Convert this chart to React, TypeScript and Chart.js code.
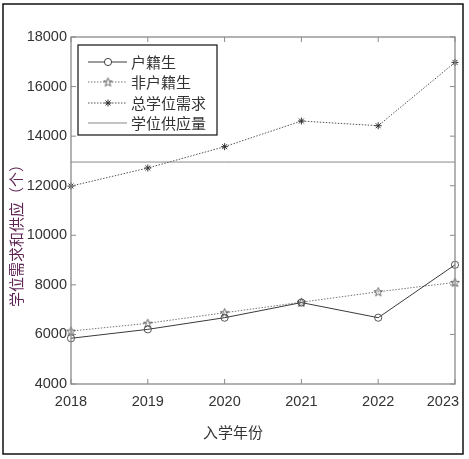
import React, { useEffect, useRef } from "react";
import { Chart, registerables } from "chart.js";

Chart.register(...registerables);

const years = ["2018", "2019", "2020", "2021", "2022", "2023"];
const localStudents = [5845, 6205, 6675, 7285, 6675, 8810];
const nonLocalStudents = [6135, 6450, 6875, 7300, 7720, 8100];
const totalDemand = [11985, 12715, 13575, 14610, 14420, 16975];
const supply = [12955, 12955, 12955, 12955, 12955, 12955];
const seriesNames = ["户籍生", "非户籍生", "总学位需求", "学位供应量"];
const yTicks = [4000, 6000, 8000, 10000, 12000, 14000, 16000, 18000];
const xTitle = "入学年份";
const yTitle = "学位需求和供应（个）";

const FONT = "'Liberation Sans', 'Noto Sans CJK SC', sans-serif";
const CJK = "'Noto Sans CJK SC', 'Liberation Sans', sans-serif";

function makePentagram(color: string): HTMLCanvasElement {
  const c = document.createElement("canvas");
  const s = 11;
  c.width = s;
  c.height = s;
  const ctx = c.getContext("2d")!;
  const cx = s / 2, cy = s / 2 + 0.4, R = 4.6, r = 1.9;
  ctx.beginPath();
  for (let i = 0; i < 10; i++) {
    const rad = i % 2 === 0 ? R : r;
    const a = -Math.PI / 2 + (i * Math.PI) / 5;
    const x = cx + rad * Math.cos(a);
    const y = cy + rad * Math.sin(a);
    if (i === 0) ctx.moveTo(x, y);
    else ctx.lineTo(x, y);
  }
  ctx.closePath();
  ctx.strokeStyle = color;
  ctx.lineWidth = 0.9;
  ctx.stroke();
  return c;
}

export default function App() {
  const ref = useRef<HTMLCanvasElement | null>(null);

  useEffect(() => {
    if (!ref.current) return;
    const star = makePentagram("#555");

    const framePlugin = {
      id: "frame",
      afterDraw(chart: any) {
        const ctx = chart.ctx;
        const { left, right, top, bottom } = chart.chartArea;
        const xs = chart.scales.x;
        const ys = chart.scales.y;
        ctx.save();
        // axes box
        ctx.strokeStyle = "#8a8a8a";
        ctx.lineWidth = 1.3;
        ctx.strokeRect(left, top, right - left, bottom - top);
        // inward ticks
        ctx.lineWidth = 1;
        ctx.beginPath();
        yTicks.forEach((v) => {
          const y = ys.getPixelForValue(v);
          ctx.moveTo(left, y);
          ctx.lineTo(left + 5, y);
          ctx.moveTo(right, y);
          ctx.lineTo(right - 5, y);
        });
        years.forEach((_, i) => {
          const x = xs.getPixelForValue(i);
          ctx.moveTo(x, bottom);
          ctx.lineTo(x, bottom - 5);
          ctx.moveTo(x, top);
          ctx.lineTo(x, top + 5);
        });
        ctx.stroke();

        // titles
        ctx.fillStyle = "#333";
        ctx.font = `15px ${CJK}`;
        ctx.textAlign = "center";
        ctx.textBaseline = "middle";
        ctx.fillText(xTitle, 233, 432);
        ctx.save();
        ctx.translate(16, 232);
        ctx.rotate(-Math.PI / 2);
        ctx.fillStyle = "#5e2454";
        ctx.fillText(yTitle, 0, 0);
        ctx.restore();

        // legend
        const lx = 78, ly = 45, lw = 139, lh = 90;
        ctx.fillStyle = "#fff";
        ctx.fillRect(lx, ly, lw, lh);
        ctx.strokeStyle = "#111";
        ctx.lineWidth = 1.2;
        ctx.strokeRect(lx, ly, lw, lh);
        const rows = [62, 82, 103, 123];
        chart.data.datasets.forEach((ds: any, i: number) => {
          const y = rows[i];
          ctx.save();
          ctx.strokeStyle = ds.borderColor;
          ctx.lineWidth = ds.borderWidth;
          ctx.setLineDash(ds.borderDash || []);
          ctx.beginPath();
          ctx.moveTo(88, y);
          ctx.lineTo(127, y);
          ctx.stroke();
          ctx.setLineDash([]);
          const ps = ds.pointStyle;
          if (ps === "circle") {
            ctx.beginPath();
            ctx.fillStyle = "#fff";
            ctx.arc(108, y, ds.pointRadius, 0, Math.PI * 2);
            ctx.fill();
            ctx.strokeStyle = ds.pointBorderColor;
            ctx.stroke();
          } else if (ps === "star") {
            ctx.strokeStyle = ds.pointBorderColor;
            ctx.lineWidth = 1;
            const r = ds.pointRadius;
            ctx.beginPath();
            for (let k = 0; k < 4; k++) {
              const a = (k * Math.PI) / 4;
              ctx.moveTo(108 - r * Math.cos(a), y - r * Math.sin(a));
              ctx.lineTo(108 + r * Math.cos(a), y + r * Math.sin(a));
            }
            ctx.stroke();
          } else if (ps && typeof ps === "object") {
            ctx.drawImage(ps, 108 - ps.width / 2, y - ps.height / 2);
          }
          ctx.restore();
          ctx.fillStyle = "#333";
          ctx.font = `15px ${CJK}`;
          ctx.textAlign = "left";
          ctx.textBaseline = "middle";
          ctx.fillText(ds.label, 131, y);
        });

        // outer border
        ctx.strokeStyle = "#111";
        ctx.lineWidth = 1.5;
        ctx.strokeRect(3, 4, 460, 450);
        ctx.restore();
      },
    };

    const chart = new Chart(ref.current, {
      type: "line",
      data: {
        labels: years,
        datasets: [
          {
            label: seriesNames[0],
            data: localStudents,
            borderColor: "#3a3a3a",
            borderWidth: 1,
            pointStyle: "circle",
            pointRadius: 3.6,
            pointBorderColor: "#444",
            pointBackgroundColor: "rgba(0,0,0,0)",
            pointBorderWidth: 0.9,
            fill: false,
          },
          {
            label: seriesNames[1],
            data: nonLocalStudents,
            borderColor: "#777",
            borderWidth: 1,
            borderDash: [1.5, 1.5],
            pointStyle: star as any,
            pointRadius: 4,
            pointBorderColor: "#555",
            fill: false,
          },
          {
            label: seriesNames[2],
            data: totalDemand,
            borderColor: "#555",
            borderWidth: 1,
            borderDash: [1.5, 1.5],
            pointStyle: "star",
            pointRadius: 3.5,
            pointBorderColor: "#333",
            pointBorderWidth: 1,
            fill: false,
          },
          {
            label: seriesNames[3],
            data: supply,
            borderColor: "#888",
            borderWidth: 1,
            pointRadius: 0,
            pointStyle: false as any,
            fill: false,
          },
        ],
      },
      options: {
        responsive: false,
        animation: false,
        devicePixelRatio: 1,
        events: [],
        layout: { autoPadding: false, padding: { left: 0, right: 14, top: 37, bottom: 0 } },
        plugins: { legend: { display: false }, tooltip: { enabled: false } },
        scales: {
          x: {
            type: "category",
            offset: false,
            grid: { display: false, drawTicks: false },
            border: { display: false },
            afterFit: (s: any) => {
              s.height = 75;
              s.paddingLeft = 0;
              s.paddingRight = 0;
            },
            ticks: {
              padding: 9,
              color: "#333",
              font: { family: FONT, size: 14.5 },
              maxRotation: 0,
              autoSkip: false,
              callback: (_v: any, i: number) =>
                i === years.length - 1 ? years[i] + "\u00a0\u00a0\u00a0\u00a0\u00a0\u00a0" : years[i],
            },
          },
          y: {
            type: "linear",
            min: yTicks[0],
            max: yTicks[yTicks.length - 1],
            afterFit: (s: any) => {
              s.width = 71;
              s.paddingTop = 0;
              s.paddingBottom = 0;
            },
            afterBuildTicks: (s: any) => {
              s.ticks = yTicks.map((v) => ({ value: v }));
            },
            grid: { display: false, drawTicks: false },
            border: { display: false },
            ticks: {
              padding: 4,
              color: "#333",
              font: { family: FONT, size: 14.5 },
              callback: (v: any) => String(v),
            },
          },
        },
      },
      plugins: [framePlugin],
    });
    return () => chart.destroy();
  }, []);

  return (
    <div style={{ position: "fixed", left: 0, top: 0, width: 469, height: 459, background: "#fff" }}>
      <canvas ref={ref} width={469} height={459} style={{ width: 469, height: 459, display: "block" }} />
    </div>
  );
}
